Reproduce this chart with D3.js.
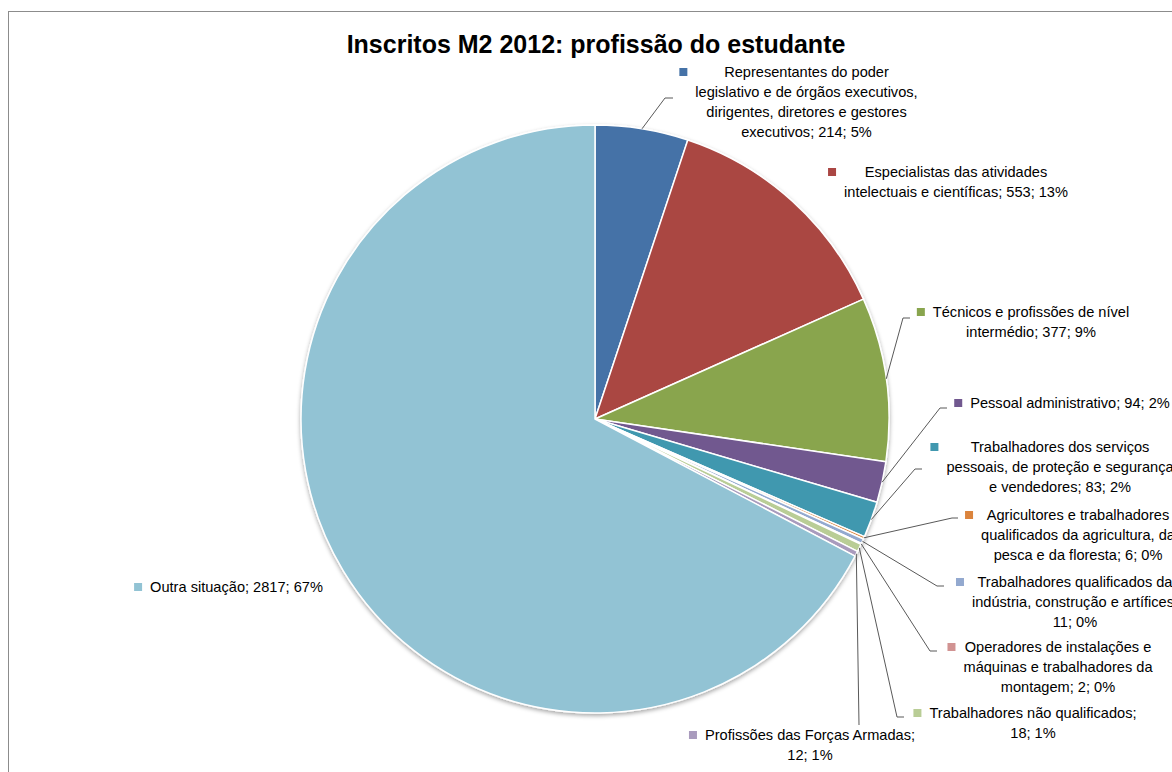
<!DOCTYPE html>
<html>
<head>
<meta charset="utf-8">
<script src="https://cdn.jsdelivr.net/npm/d3@7"></script>
<style>
  html, body { margin: 0; padding: 0; background: #fff; }
  svg { display: block; }
  text { font-family: "Liberation Sans", Arial, sans-serif; fill: #000; }
</style>
</head>
<body>
<svg id="chart" width="1172" height="772"></svg>
<script>
// Occupation of students enrolled in M2, 2012
const categories = [
  "Representantes do poder legislativo e de órgãos executivos, dirigentes, diretores e gestores executivos",
  "Especialistas das atividades intelectuais e científicas",
  "Técnicos e profissões de nível intermédio",
  "Pessoal administrativo",
  "Trabalhadores dos serviços pessoais, de proteção e segurança e vendedores",
  "Agricultores e trabalhadores qualificados da agricultura, da pesca e da floresta",
  "Trabalhadores qualificados da indústria, construção e artífices",
  "Operadores de instalações e máquinas e trabalhadores da montagem",
  "Trabalhadores não qualificados",
  "Profissões das Forças Armadas",
  "Outra situação"
];
const counts = [214, 553, 377, 94, 83, 6, 11, 2, 18, 12, 2817];
const percentLabels = ["5%", "13%", "9%", "2%", "2%", "0%", "0%", "0%", "1%", "1%", "67%"];
const colors = ["#4572a7", "#aa4643", "#89a54e", "#71588f", "#4198af", "#db843d",
                "#93a9cf", "#d19392", "#b9cd96", "#a99bbd", "#92c3d4"];

// Label placement: block centre, first-line centre, words per line, leader elbow/end
const labelLayout = [
  { cx: 806.5, cy: 72,  wrap: [3, 5, 4, 3], leader: [[665, 98], [673, 98]] },
  { cx: 956,   cy: 172, wrap: [3, 5],       leader: null },
  { cx: 1031,  cy: 312, wrap: [5, 3],       leader: [[903, 318], [910, 318]] },
  { cx: 1070,  cy: 403, wrap: [4],          leader: [[940, 408], [947, 408]] },
  { cx: 1060,  cy: 447, wrap: [3, 5, 4],    leader: [[915, 469], [922, 469]] },
  { cx: 1078,  cy: 515, wrap: [3, 4, 6],    leader: [[952, 518], [958, 518]] },
  { cx: 1075,  cy: 582, wrap: [3, 4, 2],    leader: [[937, 586], [944, 586]] },
  { cx: 1058,  cy: 647, wrap: [4, 4, 3],    leader: [[930, 651], [937, 651]] },
  { cx: 1033,  cy: 713, wrap: [3, 2],       leader: [[897, 717], [904, 717]] },
  { cx: 810,   cy: 735, wrap: [4, 2],       leader: [[859, 725], [859, 725]] },
  { cx: 236.5, cy: 587, wrap: [4],          leader: null }
];

const svg = d3.select("#chart");
const cx = 595, cy = 419, radius = 294;
const lineH = 20;

// chart area frame
svg.append("rect")
  .attr("x", 8.5).attr("y", 11.5)
  .attr("width", 1300).attr("height", 900)
  .attr("fill", "#fff").attr("stroke", "#8c8c8c").attr("stroke-width", 1);

// title
svg.append("text")
  .attr("x", 596).attr("y", 53)
  .attr("text-anchor", "middle")
  .style("font-size", "25px").style("font-weight", "bold")
  .text("Inscritos M2 2012: profissão do estudante");

const defs = svg.append("defs");
const shadow = defs.append("filter").attr("id", "pieShadow")
  .attr("x", "-10%").attr("y", "-10%").attr("width", "120%").attr("height", "120%");
shadow.append("feDropShadow")
  .attr("dx", 0).attr("dy", 2).attr("stdDeviation", 2)
  .attr("flood-color", "#000").attr("flood-opacity", 0.35);

const data = categories.map((name, i) => ({ name, value: counts[i], pct: percentLabels[i], color: colors[i], layout: labelLayout[i] }));

const pie = d3.pie().sort(null).value(d => d.value);
const arcs = pie(data);
const arc = d3.arc().innerRadius(0).outerRadius(radius);

const g = svg.append("g").attr("transform", `translate(${cx},${cy})`);
g.append("g").attr("filter", "url(#pieShadow)")
  .selectAll("path")
  .data(arcs)
  .join("path")
  .attr("d", arc)
  .attr("fill", d => d.data.color)
  .attr("stroke", "#fff")
  .attr("stroke-width", 1.5)
  .attr("stroke-linejoin", "round");

// leader lines from the arc edge
arcs.forEach(a => {
  const L = a.data.layout;
  if (!L.leader) return;
  const mid = (a.startAngle + a.endAngle) / 2;
  const x0 = cx + radius * Math.sin(mid);
  const y0 = cy - radius * Math.cos(mid);
  const pts = [[x0, y0], L.leader[0], L.leader[1]];
  svg.append("path")
    .attr("d", d3.line()(pts))
    .attr("fill", "none")
    .attr("stroke", "#595959")
    .attr("stroke-width", 1);
});

// data labels: name; value; percent, with a colour key
arcs.forEach(a => {
  const d = a.data, L = d.layout;
  const words = `${d.name}; ${d.value}; ${d.pct}`.split(" ");
  const lines = [];
  let k = 0;
  L.wrap.forEach(n => { lines.push(words.slice(k, k + n).join(" ")); k += n; });
  const lg = svg.append("g");
  const texts = lg.selectAll("text")
    .data(lines)
    .join("text")
    .attr("x", L.cx)
    .attr("y", (s, i) => L.cy + i * lineH)
    .attr("dy", "0.35em")
    .attr("text-anchor", "middle")
    .style("font-size", "14.6px")
    .text(s => s);
  let maxW = 0;
  texts.each(function () { maxW = Math.max(maxW, this.getComputedTextLength()); });
  const left = L.cx - maxW / 2;
  lg.append("rect")
    .attr("x", left - 16).attr("y", L.cy - 4)
    .attr("width", 8).attr("height", 8)
    .attr("fill", d.color);
});
</script>
</body>
</html>
